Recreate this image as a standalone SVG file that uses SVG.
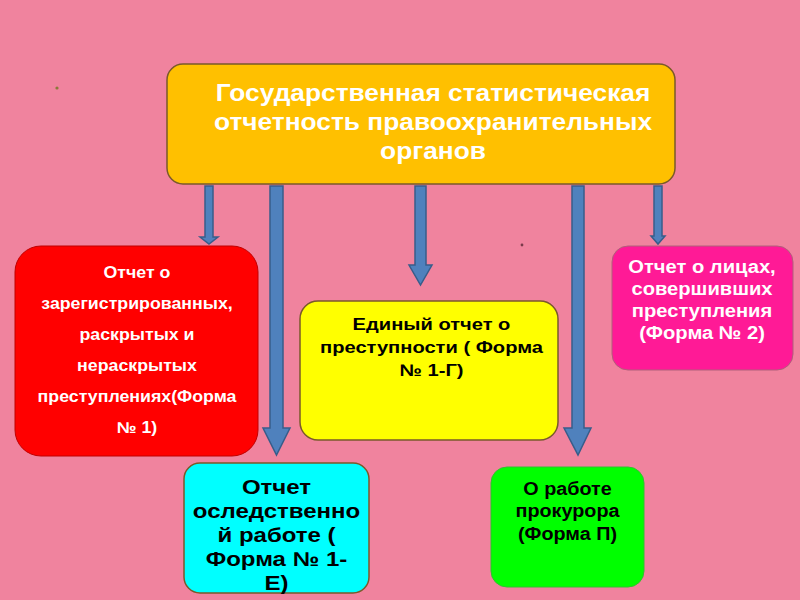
<svg xmlns="http://www.w3.org/2000/svg" width="800" height="600" viewBox="0 0 800 600">
<style>
.t{font-family:"Liberation Sans",Arial,sans-serif;font-weight:bold;text-anchor:middle}
.w{fill:#fff}
.k{fill:#000}
.arr{fill:#4F81BD;stroke:#385D8A;stroke-width:1.5}
.box{stroke:#7a5a2a;stroke-width:1.5}
</style>
<rect width="800" height="600" fill="#F0839E"/>
<circle cx="57" cy="88" r="1.6" fill="#8a7a3a"/>
<circle cx="522" cy="245" r="1.4" fill="#7a3a4a"/>
<g id="connectors">
<path class="arr" d="M205,186 H213 V237 H218 L209,244 L200,237 H205 Z"/>
<path class="arr" d="M270,186 H283 V428 H290 L276.5,455 L263,428 H270 Z"/>
<path class="arr" d="M415,186 H426 V265 H432 L420.5,285 L409,265 H415 Z"/>
<path class="arr" d="M572,186 H584 V428 H591 L578,455 L564,428 H572 Z"/>
<path class="arr" d="M654,186 H662 V236 H665 L658,244 L651,236 H654 Z"/>
</g>
<g id="top">
<rect class="box" x="167" y="64" width="508" height="120" rx="16" fill="#FFC000"/>
<g transform="translate(433 0) scale(1.12 1)">
<text class="t w" font-size="23.5" x="0" y="101">Государственная статистическая</text>
<text class="t w" font-size="23.5" x="0" y="130">отчетность правоохранительных</text>
<text class="t w" font-size="23.5" x="0" y="159">органов</text>
</g>
</g>
<g id="red">
<rect x="15" y="246" width="243" height="210" rx="26" fill="#FF0000" stroke="#c00000" stroke-width="1"/>
<g transform="translate(137 0) scale(1.11 1)">
<text class="t w" font-size="16" x="0" y="278">Отчет о</text>
<text class="t w" font-size="16" x="0" y="309">зарегистрированных,</text>
<text class="t w" font-size="16" x="0" y="340">раскрытых и</text>
<text class="t w" font-size="16" x="0" y="371">нераскрытых</text>
<text class="t w" font-size="16" x="0" y="402">преступлениях(Форма</text>
<text class="t w" font-size="16" x="0" y="433">№ 1)</text>
</g>
</g>
<g id="yellow">
<rect class="box" x="300" y="301" width="258" height="139" rx="18" fill="#FFFF00"/>
<g transform="translate(431.5 0) scale(1.22 1)">
<text class="t k" font-size="16.5" x="0" y="330">Единый отчет о</text>
<text class="t k" font-size="16.5" x="0" y="353">преступности ( Форма</text>
<text class="t k" font-size="16.5" x="0" y="376">№ 1-Г)</text>
</g>
</g>
<g id="magenta">
<rect x="612" y="246" width="181" height="124" rx="16" fill="#FF1A96" stroke="#b0607a" stroke-width="1"/>
<g transform="translate(702 0) scale(1.09 1)">
<text class="t w" font-size="18.5" x="0" y="273">Отчет о лицах,</text>
<text class="t w" font-size="18.5" x="0" y="295">совершивших</text>
<text class="t w" font-size="18.5" x="0" y="317">преступления</text>
<text class="t w" font-size="18.5" x="0" y="339">(Форма № 2)</text>
</g>
</g>
<g id="cyan">
<rect class="box" x="184" y="463" width="185" height="130" rx="16" fill="#00FFFF"/>
<g transform="translate(276.5 0) scale(1.2 1)">
<text class="t k" font-size="20" x="0" y="494">Отчет</text>
<text class="t k" font-size="20" x="0" y="518">оследственно</text>
<text class="t k" font-size="20" x="0" y="542">й работе (</text>
<text class="t k" font-size="20" x="0" y="566">Форма № 1-</text>
<text class="t k" font-size="20" x="0" y="590">Е)</text>
</g>
</g>
<g id="green">
<rect x="491" y="467" width="153" height="120" rx="16" fill="#00FF00" stroke="#30c030" stroke-width="1"/>
<g transform="translate(567.5 0) scale(1.07 1)">
<text class="t k" font-size="18.5" x="0" y="495">О работе</text>
<text class="t k" font-size="18.5" x="0" y="517">прокурора</text>
<text class="t k" font-size="18.5" x="0" y="540">(Форма П)</text>
</g>
</g>
</svg>
